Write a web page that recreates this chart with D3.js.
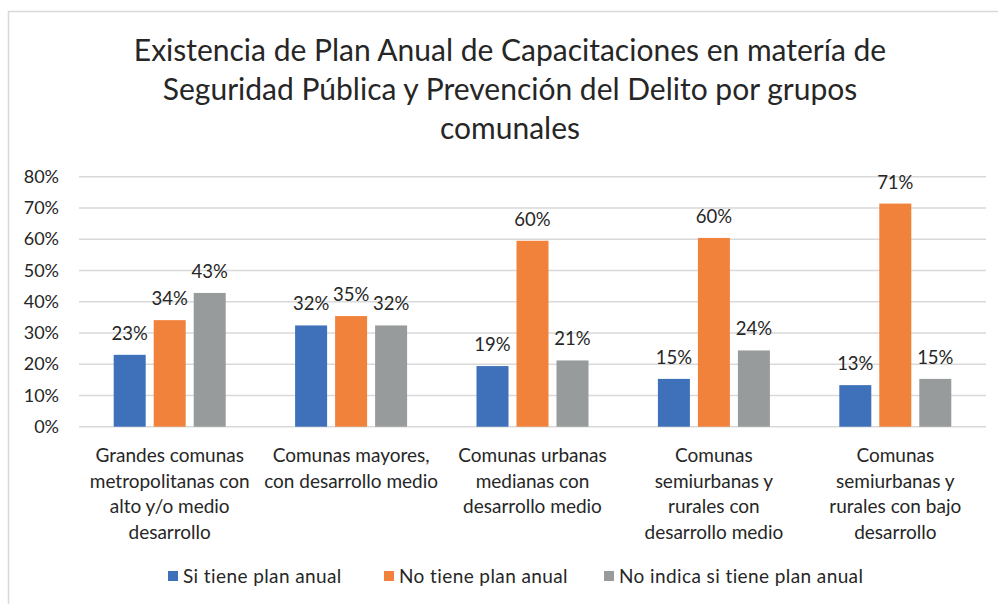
<!DOCTYPE html>
<html><head><meta charset="utf-8">
<script src="https://cdn.jsdelivr.net/npm/d3@7"></script>
<style>body{margin:0;background:#fff;}text{font-family:Lato,"Open Sans",sans-serif;fill:#262626;}</style>
</head><body><svg id="c" width="998" height="604"></svg>
<script>
const titleLines = ["Existencia de Plan Anual de Capacitaciones en matería de","Seguridad Pública y Prevención del Delito por grupos","comunales"];
const categories = ["Grandes comunas metropolitanas con alto y/o medio desarrollo","Comunas mayores, con desarrollo medio","Comunas urbanas medianas con desarrollo medio","Comunas semiurbanas y rurales con desarrollo medio","Comunas semiurbanas y rurales con bajo desarrollo"];
const categoryLines = [
  ["Grandes comunas","metropolitanas con","alto y/o medio","desarrollo"],
  ["Comunas mayores,","con desarrollo medio"],
  ["Comunas urbanas","medianas con","desarrollo medio"],
  ["Comunas","semiurbanas y","rurales con","desarrollo medio"],
  ["Comunas","semiurbanas y","rurales con bajo","desarrollo"]
];
const seriesNames = ["Si tiene plan anual","No tiene plan anual","No indica si tiene plan anual"];
const siTiene = [0.230, 0.324, 0.194, 0.153, 0.133];
const noTiene = [0.341, 0.354, 0.595, 0.604, 0.714];
const noIndica = [0.428, 0.324, 0.212, 0.244, 0.153];
const yTicks = [0,0.1,0.2,0.3,0.4,0.5,0.6,0.7,0.8];
const colors = ["#3F71BA","#F0823C","#989B9B"];

const svg = d3.select("#c");
const values = [siTiene, noTiene, noIndica];

// frame
svg.append("path").attr("d","M8.5,604 V11.5 H998").attr("fill","none").attr("stroke","#D9D9D9").attr("stroke-width",1.5);

// title
svg.append("g").selectAll("text").data(titleLines).join("text")
  .attr("x",510).attr("y",(d,i)=>61+i*39).attr("text-anchor","middle")
  .style("font-size","30px").text(d=>d);

const x0 = d3.scaleBand().domain(categories).range([79,986]);
const x1 = d3.scaleBand().domain(seriesNames).range([-56,56]).paddingInner(0.2);
const y = d3.scaleLinear().domain([0,0.8]).range([426.7,176.7]);

// grid
svg.append("g").selectAll("line").data(yTicks).join("line")
  .attr("x1",79).attr("x2",986).attr("y1",d=>y(d)).attr("y2",d=>y(d))
  .attr("stroke","#D9D9D9").attr("stroke-width",1.5);

// y axis labels
const yAxis = d3.axisLeft(y).tickValues(yTicks).tickFormat(d3.format(".0%")).tickSize(0).tickPadding(0);
const ga = svg.append("g").attr("transform","translate(59,0)").call(yAxis);
ga.select(".domain").remove();
ga.selectAll("text").style("font-size","18px").style("font-family","Lato, sans-serif").attr("fill","#262626");

// bars
seriesNames.forEach((s,si)=>{
  const g = svg.append("g");
  const data = categories.map((c,ci)=>({c, v: values[si][ci]}));
  g.selectAll("rect").data(data).join("rect")
    .attr("x",d=>x0(d.c)+x0.bandwidth()/2+x1(s))
    .attr("width",x1.bandwidth())
    .attr("y",d=>y(d.v)).attr("height",d=>y(0)-y(d.v))
    .attr("fill",colors[si]);
  g.selectAll("text").data(data).join("text")
    .attr("x",d=>x0(d.c)+x0.bandwidth()/2+x1(s)+x1.bandwidth()/2)
    .attr("y",d=>y(d.v)-15).attr("text-anchor","middle")
    .style("font-size","18.5px").text(d=>d3.format(".0%")(d.v));
});

// x labels
categories.forEach((c,ci)=>{
  svg.append("g").selectAll("text").data(categoryLines[ci]).join("text")
    .attr("x",x0(c)+x0.bandwidth()/2).attr("y",(d,i)=>462+i*25.5)
    .attr("text-anchor","middle").style("font-size","19px").text(d=>d);
});

// legend
const legX = [168,384,604];
const lg = svg.append("g");
seriesNames.forEach((s,i)=>{
  lg.append("rect").attr("x",legX[i]).attr("y",571).attr("width",10).attr("height",10).attr("fill",colors[i]);
  lg.append("text").attr("x",legX[i]+15).attr("y",583).style("font-size","19px").style("letter-spacing","0.4px").text(s);
});
</script></body></html>
